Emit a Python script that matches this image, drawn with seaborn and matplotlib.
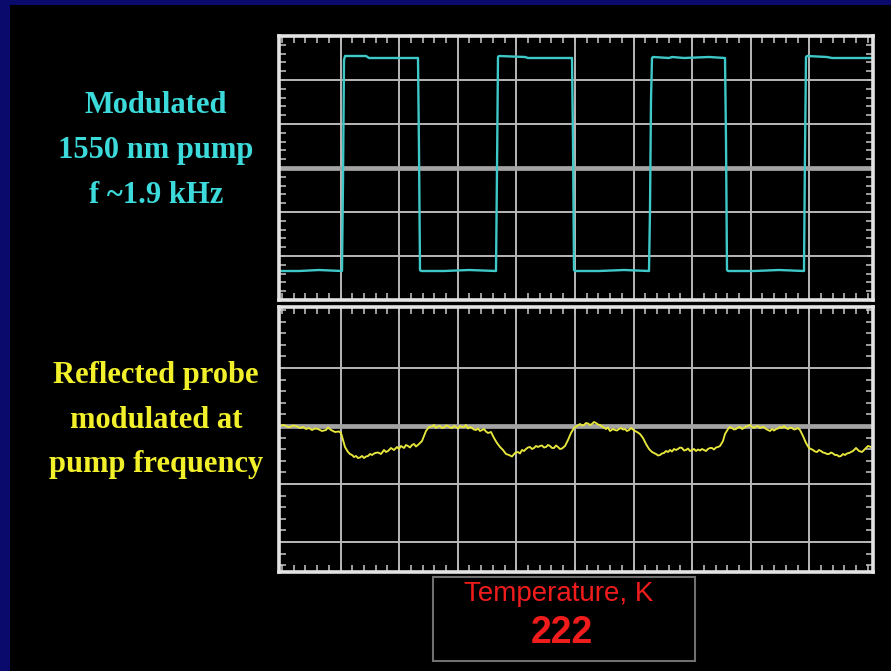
import numpy as np
import matplotlib
matplotlib.use("Agg")
import matplotlib.pyplot as plt
import seaborn as sns
from matplotlib.patches import Rectangle

pump_t = [1, 20, 40, 63, 64, 65, 66, 87, 90, 115, 139, 140, 141, 142, 165, 190,
          217, 218, 219, 220, 246, 249, 270, 293, 294, 295, 296, 320, 345, 370,
          371, 372, 373, 374, 390, 393, 405, 430, 446, 447, 448, 449, 475, 500,
          525, 526, 527, 528, 548, 553, 575, 593]
pump_a = [29, 29, 30, 29, 120, 240, 244, 244, 242, 242, 242, 150, 30, 29, 29, 30,
          29, 130, 243, 244, 243, 242, 242, 242, 160, 30, 29, 29, 30, 29,
          90, 200, 242, 243, 242, 243, 242, 243, 242, 160, 30, 29, 29, 30,
          29, 150, 243, 244, 243, 242, 242, 242]

probe_t = [1, 4, 6, 9, 11, 14, 17, 21, 24, 27, 30, 33, 36, 39, 43, 47, 49, 52, 56, 60, 62, 64, 66, 69,
           71, 73, 75, 77, 79, 81, 83, 85, 87, 89, 91, 93, 96, 99, 102, 105, 107, 109, 112, 115,
           118, 120, 122, 125, 127, 129, 131, 133, 135, 137, 140, 143, 145, 147, 150, 153, 155,
           157, 159, 161, 163, 165, 167, 169, 171, 173, 175, 177, 179, 181, 183, 185, 187, 189,
           191, 193, 195, 197, 199, 201, 203, 205, 207, 209, 212, 215, 218, 221, 224,
           227, 230, 233, 236, 239, 241, 243, 245, 247, 249, 251, 253, 255, 257, 259, 261, 263,
           265, 267, 269, 271, 273, 275, 277, 279, 281, 283, 286, 289, 292, 295, 298, 301, 303,
           305, 307, 309, 311, 313, 315, 317, 319, 321, 324, 327, 329, 331, 334, 336, 338, 340,
           342, 344, 346, 348, 350, 352, 354, 356, 358, 361, 364, 367, 370, 373, 375, 377, 379,
           381, 383, 385, 387, 389, 391, 393, 395, 397, 399, 401, 403, 405, 407, 409, 411, 413,
           415, 417, 419, 421, 423, 425, 427, 429, 431, 433, 435, 437, 439, 441, 444, 446, 449,
           451, 453, 455, 457, 459, 461, 463, 465, 467, 469, 471, 473, 475, 477, 479, 481, 483,
           485, 487, 489, 491, 493, 495, 497, 499, 501, 503, 505, 507, 509, 511, 513, 515, 517,
           519, 521, 524, 527, 530, 532, 534, 536, 538, 540, 542, 544, 546, 548, 550, 552, 554,
           556, 558, 560, 562, 564, 566, 568, 570, 572, 574, 577, 580, 583, 586, 589, 592]
probe_a = [146, 147, 146.5, 145, 145, 146.5, 146, 144, 145, 143, 144, 142, 143.5, 143, 141, 142, 144.5, 142, 140, 140.5, 139, 132, 125, 120,
           118, 117, 115, 116, 114, 114.5, 116, 114, 115.5, 116, 118, 117, 119, 119.5, 118, 122, 120, 121, 124, 122,
           125, 123, 126, 124, 127, 126, 124.5, 127, 128, 125.5, 128, 131, 136, 141, 145, 145.5, 147,
           144, 145.5, 146, 144, 144.5, 146.5, 146, 144.5, 144, 146, 145, 143.5, 146, 145, 145, 147, 143.5,
           145, 144, 142.5, 142, 143.5, 141, 142, 143, 140.5, 139, 140, 134, 129, 125, 122,
           118, 117, 115.5, 119, 120, 118.5, 122, 121, 123, 124.5, 125, 123, 124, 126, 125, 126, 126.5,
           124.5, 125, 127, 126, 124, 124, 126.5, 125, 123, 123.5, 126, 132, 139, 144, 146, 148, 146.5,
           147, 149, 148.5, 147, 148, 150, 149, 147.5, 147, 145, 143, 144.5, 141, 143, 142, 141.5, 143,
           144, 142.5, 143, 141, 142, 144, 142.5, 141, 140, 138, 134, 128, 123, 120, 119, 118, 116.5,
           117, 118.5, 119, 121, 120, 122, 120.5, 123, 122, 123, 124.5, 124, 121.5, 122, 123.5, 121, 122,
           123, 121, 122.5, 121.5, 123, 122, 121, 123, 124, 124, 122.5, 124.5, 125, 126, 131, 138, 143,
           145, 144, 142.5, 143, 144.5, 145, 143, 144, 145.5, 146, 147, 145, 144, 145.5, 146, 144, 145,
           145, 143, 142, 141, 143, 141.5, 143, 143.5, 145, 144, 146, 144, 143, 144.5, 144, 142.5, 143,
           144, 142, 136, 129, 124, 123, 122, 120.5, 120, 122, 121, 119.5, 119, 118, 118, 119.5, 118.5,
           117, 117, 115.5, 116, 118, 117, 118.5, 119, 120, 121, 124, 121, 120, 123, 126, 125]

pump_labels = ["Modulated", "1550 nm pump", "f ~1.9 kHz"]
probe_labels = ["Reflected probe", "modulated at", "pump frequency"]
temp_label = "Temperature, K"
temp_value = "222"

# ---------------- style ----------------
sns.set_theme(style="dark")
plt.rcParams["font.family"] = ["Liberation Serif", "DejaVu Serif"]

W, H = 891, 671
NAVY = "#0a0a6c"
GRID = "#b8b8b8"
THICK = "#a4a4a4"
FRAME = "#e4e4e4"
CYAN_T = "#3cdada"
CYAN_L = "#3ec8c8"
YEL_T = "#f2f02a"
YEL_L = "#e8e83c"
RED = "#f01c1c"

fig = plt.figure(figsize=(W / 100, H / 100), dpi=100, facecolor="black")

# navy slide border (left and top)
fig.add_artist(Rectangle((0, 0), 10 / W, 1, transform=fig.transFigure,
                         facecolor=NAVY, edgecolor="none", zorder=0))
fig.add_artist(Rectangle((0, 1 - 5 / H), 1, 5 / H, transform=fig.transFigure,
                         facecolor=NAVY, edgecolor="none", zorder=0))

x_grid = 61.5 + 58.6 * np.arange(9)
x_minor = np.arange(61.5 - 58.6, 594, 58.6 / 5)


def style_scope(ax, ymax, ygrid, ythick, yminor):
    ax.set_facecolor("black")
    ax.grid(False)
    for x in x_grid:
        ax.axvline(x, color=GRID, lw=1.4, zorder=1)
    for y in ygrid:
        if y == ythick:
            ax.axhline(y, color=THICK, lw=3.4, zorder=1)
        else:
            ax.axhline(y, color=GRID, lw=1.4, zorder=1)
    ax.set_xticks([])
    ax.set_yticks([])
    ax.set_xticks(x_minor, minor=True)
    ax.set_yticks(yminor, minor=True)
    ax.tick_params(which="minor", direction="in", length=5, width=1.1,
                   color="#c8c8c8", top=True, bottom=True, left=True, right=True,
                   labelbottom=False, labelleft=False)
    ax.set_xlabel("")
    ax.set_ylabel("")
    for s in ax.spines.values():
        s.set_visible(True)
        s.set_color(FRAME)
        s.set_linewidth(2.6)
        s.set_zorder(5)
    ax.set_xlim(0, 594)
    ax.set_ylim(0, ymax)


# top channel: pump
ax1 = fig.add_axes([279 / W, 1 - 300 / H, 594 / W, 264 / H])
sns.lineplot(x=pump_t, y=pump_a, ax=ax1, color=CYAN_L, lw=1.7, sort=False,
             estimator=None, zorder=3)
style_scope(ax1, 264, [44, 88, 132, 176, 220], 132, np.arange(0, 264, 8.8))

# bottom channel: probe
ax2 = fig.add_axes([279 / W, 1 - 572 / H, 594 / W, 265 / H])
sns.lineplot(x=probe_t, y=probe_a, ax=ax2, color=YEL_L, lw=1.35, sort=False,
             estimator=None, zorder=3)
style_scope(ax2, 265, [30, 88, 146, 204], 146, np.arange(30 - 58, 265, 11.6))

# left labels
for lab, yb in zip(pump_labels, [113, 158, 203]):
    fig.text(156 / W, 1 - yb / H, lab, ha="center", va="baseline", color=CYAN_T,
             fontsize=22, fontweight="bold")
for lab, yb in zip(probe_labels, [383, 428, 472]):
    fig.text(156 / W, 1 - yb / H, lab, ha="center", va="baseline", color=YEL_T,
             fontsize=22, fontweight="bold")

# temperature readout box
fig.add_artist(Rectangle((433 / W, 1 - 661 / H), 262 / W, 84 / H,
                         transform=fig.transFigure, facecolor="black",
                         edgecolor="#707070", lw=1.5, zorder=2))
fig.text(559 / W, 1 - 601 / H, temp_label, ha="center", va="baseline", color=RED,
         fontsize=20, family=["Liberation Sans", "DejaVu Sans"], zorder=3)
fig.text(562 / W, 1 - 643 / H, temp_value, ha="center", va="baseline", color=RED,
         fontsize=27, fontweight="bold", family=["Liberation Sans", "DejaVu Sans"],
         zorder=3)

fig.savefig("out.png", dpi=100, facecolor="black")
